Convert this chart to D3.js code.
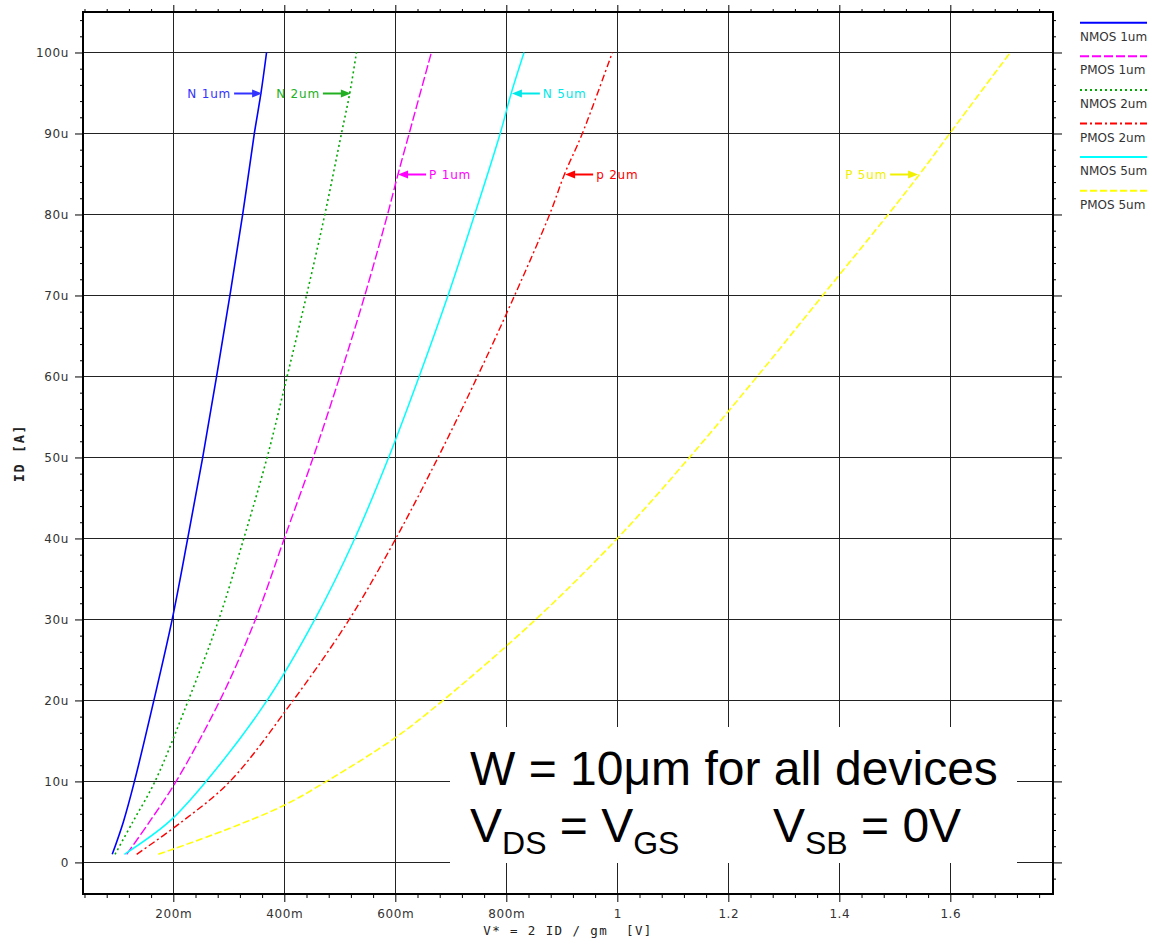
<!DOCTYPE html>
<html>
<head>
<meta charset="utf-8">
<script src="https://cdn.jsdelivr.net/npm/d3@7/dist/d3.min.js"></script>
<style>
	body { margin: 0; background: #fff; }
	svg { display: block; }
	.axis text { font-family: "DejaVu Sans", Verdana, sans-serif; font-size: 12px; fill: #333; letter-spacing: 0.6px; }
	.axis line { stroke: #000; }
	.axis path { display: none; }
	.grid line { stroke: #222; stroke-width: 1; }
</style>
</head>
<body>
<div id="chart"></div>
<script>
// series: [V* (V), ID (uA)]
const SERIES_NAMES = ["NMOS 1um", "PMOS 1um", "NMOS 2um", "PMOS 2um", "NMOS 5um", "PMOS 5um"];

const NMOS_1UM = [[0.090, 1], [0.110, 5], [0.130, 10], [0.165, 20], [0.198, 30], [0.226, 40], [0.253, 50],
	[0.278, 60], [0.302, 70], [0.325, 80], [0.346, 90], [0.358, 95], [0.368, 100]];
const PMOS_1UM = [[0.116, 1], [0.157, 5], [0.205, 10], [0.284, 20], [0.348, 30], [0.400, 40], [0.452, 50],
	[0.500, 60], [0.545, 70], [0.586, 80], [0.605, 85], [0.625, 90], [0.665, 100]];
const NMOS_2UM = [[0.095, 1], [0.127, 5], [0.167, 10], [0.227, 20], [0.282, 30], [0.327, 40], [0.369, 50],
	[0.405, 60], [0.440, 70], [0.473, 80], [0.503, 90], [0.518, 95], [0.530, 100]];
const PMOS_2UM = [[0.134, 1], [0.215, 5], [0.302, 10], [0.416, 20], [0.517, 30], [0.601, 40], [0.677, 50],
	[0.748, 60], [0.815, 70], [0.878, 80], [0.905, 85], [0.937, 90], [0.991, 100]];
const NMOS_5UM = [[0.112, 1], [0.192, 5], [0.259, 10], [0.369, 20], [0.455, 30], [0.527, 40], [0.588, 50],
	[0.643, 60], [0.695, 70], [0.743, 80], [0.789, 90], [0.809, 95], [0.832, 100]];
const PMOS_5UM = [[0.173, 1], [0.290, 3.9], [0.398, 7], [0.476, 10], [0.600, 15.4], [0.686, 20], [0.853, 30],
	[1.000, 40], [1.130, 50], [1.252, 60], [1.370, 70], [1.488, 80], [1.545, 85], [1.599, 90], [1.708, 100]];

const SERIES_VALUES = [NMOS_1UM, PMOS_1UM, NMOS_2UM, PMOS_2UM, NMOS_5UM, PMOS_5UM];

// axis ticks
const X_TICKS = [0.2, 0.4, 0.6, 0.8, 1.0, 1.2, 1.4, 1.6];
const X_TICK_LABELS = ["200m", "400m", "600m", "800m", "1", "1.2", "1.4", "1.6"];
const Y_TICKS = [0, 10, 20, 30, 40, 50, 60, 70, 80, 90, 100];
const Y_TICK_LABELS = ["0", "10u", "20u", "30u", "40u", "50u", "60u", "70u", "80u", "90u", "100u"];

// curve callouts: text and the curve point the arrow touches
const CALLOUT_TEXTS = ["N 1um", "N 2um", "N 5um", "P 1um", "p 2um", "P 5um"];
const CALLOUT_V = [0.360, 0.520, 0.810, 0.605, 0.906, 1.542];
const CALLOUT_I = [95, 95, 95, 85, 85, 85];

const X_TITLE = "V* = 2 ID / gm  [V]";
const Y_TITLE = "ID [A]";

// styles
const SERIES_STYLE = {
	"NMOS 1um": {color: "#0000ff", dash: null, width: 1.6},
	"PMOS 1um": {color: "#ff00ff", dash: "9,3", width: 1.4},
	"NMOS 2um": {color: "#00aa00", dash: "2,3", width: 1.6},
	"PMOS 2um": {color: "#ff0000", dash: "7,3,2,3", width: 1.4},
	"NMOS 5um": {color: "#00ffff", dash: null, width: 1.5},
	"PMOS 5um": {color: "#ffff00", dash: "7,3", width: 1.5}
};
const CALLOUT_STYLE = {
	"N 1um": {color: "#3333ff", textLeft: true},
	"N 2um": {color: "#22b022", textLeft: true},
	"N 5um": {color: "#00e8e8", textLeft: false},
	"P 1um": {color: "#ff00ff", textLeft: false},
	"p 2um": {color: "#ff0000", textLeft: false},
	"P 5um": {color: "#f0f000", textLeft: true}
};

const WIDTH = 1152, HEIGHT = 941;
const PLOT = {left: 83, right: 1053, top: 12, bottom: 894};

var svg = d3.select("#chart").append("svg")
	.attr("width", WIDTH)
	.attr("height", HEIGHT);

var x = d3.scaleLinear().domain([0.0373, 1.785]).range([PLOT.left, PLOT.right]);
var y = d3.scaleLinear().domain([-3.9, 105]).range([PLOT.bottom, PLOT.top]);

// minor ticks every 40m / 2u
var xMinor = d3.range(1, 45).filter(i => i % 5 !== 0).map(i => i * 0.04);
var yMinor = d3.range(-1, 53).filter(i => i % 5 !== 0).map(i => i * 2);

// grid lines
var grid = svg.append("g").attr("class", "grid");
grid.selectAll("line.v").data(X_TICKS).enter().append("line")
	.attr("x1", d => Math.round(x(d)) + 0.5).attr("x2", d => Math.round(x(d)) + 0.5)
	.attr("y1", PLOT.top).attr("y2", PLOT.bottom);
grid.selectAll("line.h").data(Y_TICKS).enter().append("line")
	.attr("y1", d => Math.round(y(d)) + 0.5).attr("y2", d => Math.round(y(d)) + 0.5)
	.attr("x1", PLOT.left).attr("x2", PLOT.right);

// major axes with labels
svg.append("g").attr("class", "axis")
	.attr("transform", "translate(0," + PLOT.bottom + ")")
	.call(d3.axisBottom(x).tickValues(X_TICKS).tickFormat((d, i) => X_TICK_LABELS[i]).tickSize(8).tickPadding(7));
svg.append("g").attr("class", "axis")
	.attr("transform", "translate(" + PLOT.left + ",0)")
	.call(d3.axisLeft(y).tickValues(Y_TICKS).tickFormat((d, i) => Y_TICK_LABELS[i]).tickSize(8).tickPadding(6));
svg.append("g").attr("class", "axis")
	.attr("transform", "translate(0," + PLOT.top + ")")
	.call(d3.axisTop(x).tickValues(X_TICKS).tickFormat("").tickSize(7));
svg.append("g").attr("class", "axis")
	.attr("transform", "translate(" + PLOT.right + ",0)")
	.call(d3.axisRight(y).tickValues(Y_TICKS).tickFormat("").tickSize(9));

// minor ticks on all four sides
svg.append("g").attr("class", "axis")
	.attr("transform", "translate(0," + PLOT.bottom + ")")
	.call(d3.axisBottom(x).tickValues(xMinor).tickFormat("").tickSize(4));
svg.append("g").attr("class", "axis")
	.attr("transform", "translate(0," + PLOT.top + ")")
	.call(d3.axisTop(x).tickValues(xMinor).tickFormat("").tickSize(3));
svg.append("g").attr("class", "axis")
	.attr("transform", "translate(" + PLOT.left + ",0)")
	.call(d3.axisLeft(y).tickValues(yMinor).tickFormat("").tickSize(3));
svg.append("g").attr("class", "axis")
	.attr("transform", "translate(" + PLOT.right + ",0)")
	.call(d3.axisRight(y).tickValues(yMinor).tickFormat("").tickSize(3));

// plot border
svg.append("rect")
	.attr("x", PLOT.left).attr("y", PLOT.top)
	.attr("width", PLOT.right - PLOT.left).attr("height", PLOT.bottom - PLOT.top)
	.attr("fill", "none").attr("stroke", "#000").attr("stroke-width", 2);

// note box (hides the grid underneath)
svg.append("rect")
	.attr("x", 450).attr("y", 727).attr("width", 567).attr("height", 136)
	.attr("fill", "#fff");

var note = svg.append("g")
	.attr("font-family", "'Liberation Sans', Arial, sans-serif")
	.attr("fill", "#000");
note.append("text").attr("x", 470).attr("y", 785).attr("font-size", 48)
	.text("W = 10\u03bcm for all devices");

var line2 = note.append("text").attr("x", 470).attr("y", 842).attr("font-size", 48);
line2.append("tspan").text("V");
line2.append("tspan").attr("font-size", 32).attr("dy", 11.6).text("DS");
line2.append("tspan").attr("dy", -11.6).style("white-space", "pre").text(" = V");
line2.append("tspan").attr("font-size", 32).attr("dy", 11.6).text("GS");

var line3 = note.append("text").attr("x", 773).attr("y", 842).attr("font-size", 48);
line3.append("tspan").text("V");
line3.append("tspan").attr("font-size", 32).attr("dy", 11.6).text("SB");
line3.append("tspan").attr("dy", -11.6).style("white-space", "pre").text(" = 0V");

// curves
var line = d3.line()
	.x(d => x(d[0]))
	.y(d => y(d[1]))
	.curve(d3.curveCatmullRom.alpha(0.5));

svg.append("g").selectAll("path")
	.data(SERIES_NAMES)
	.enter().append("path")
	.attr("fill", "none")
	.attr("stroke", name => SERIES_STYLE[name].color)
	.attr("stroke-width", name => SERIES_STYLE[name].width)
	.attr("stroke-dasharray", name => SERIES_STYLE[name].dash)
	.attr("d", (name, i) => line(SERIES_VALUES[i]));

// callouts with arrows
var ARROW_LEN = 28;
var callouts = svg.append("g")
	.attr("font-family", "'DejaVu Sans', Verdana, sans-serif")
	.attr("font-size", 12)
	.attr("letter-spacing", 0.8);

CALLOUT_TEXTS.forEach((label, i) => {
	var st = CALLOUT_STYLE[label];
	var tipX = x(CALLOUT_V[i]);
	var cy = Math.round(y(CALLOUT_I[i])) + 0.5;
	// arrow points towards the curve, text sits on the tail side
	var dir = st.textLeft ? 1 : -1;
	var tailX = tipX - dir * ARROW_LEN;
	callouts.append("line")
		.attr("x1", tailX).attr("x2", tipX - dir * 8)
		.attr("y1", cy).attr("y2", cy)
		.attr("stroke", st.color).attr("stroke-width", 2);
	callouts.append("path")
		.attr("d", "M" + tipX + "," + cy + "L" + (tipX - dir * 10) + "," + (cy - 4) + "L" + (tipX - dir * 10) + "," + (cy + 4) + "Z")
		.attr("fill", st.color);
	callouts.append("text")
		.attr("x", tailX - dir * 3)
		.attr("y", cy + 4.5)
		.attr("text-anchor", st.textLeft ? "end" : "start")
		.attr("fill", st.color)
		.text(label);
});

// legend
var legend = svg.append("g")
	.attr("font-family", "'DejaVu Sans', Verdana, sans-serif")
	.attr("font-size", 12)
	.attr("fill", "#333");
var legendY = d3.scalePoint().domain(SERIES_NAMES).range([22.7, 190.7]);
SERIES_NAMES.forEach(name => {
	var st = SERIES_STYLE[name];
	legend.append("line")
		.attr("x1", 1080).attr("x2", 1147)
		.attr("y1", legendY(name)).attr("y2", legendY(name))
		.attr("stroke", st.color).attr("stroke-width", 2)
		.attr("stroke-dasharray", st.dash);
	legend.append("text")
		.attr("x", 1080).attr("y", legendY(name) + 18)
		.text(name);
});

// axis titles
svg.append("text")
	.attr("x", (PLOT.left + PLOT.right) / 2).attr("y", 935)
	.attr("text-anchor", "middle")
	.attr("font-family", "'DejaVu Sans Mono', monospace")
	.attr("font-size", 12.5)
	.attr("letter-spacing", 1.4)
	.attr("fill", "#222")
	.style("white-space", "pre")
	.text(X_TITLE);

svg.append("text")
	.attr("transform", "translate(24," + ((PLOT.top + PLOT.bottom) / 2) + ") rotate(-90)")
	.attr("text-anchor", "middle")
	.attr("font-family", "'DejaVu Sans Mono', monospace")
	.attr("font-weight", "bold")
	.attr("font-size", 13.5)
	.attr("letter-spacing", 1.6)
	.attr("fill", "#222")
	.text(Y_TITLE);
</script>
</body>
</html>
